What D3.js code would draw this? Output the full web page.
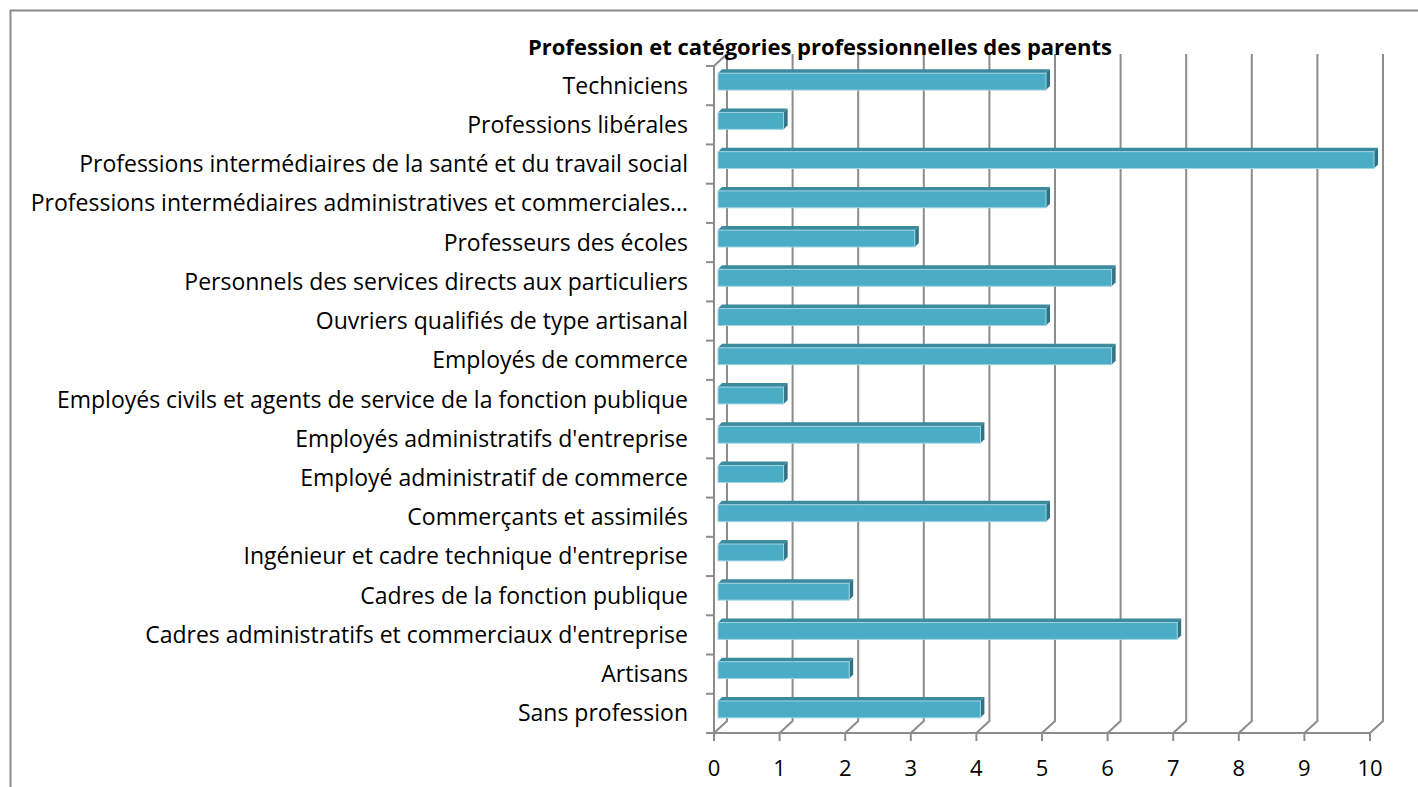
<!DOCTYPE html>
<html>
<head>
<meta charset="utf-8">
<script src="https://cdn.jsdelivr.net/npm/d3@7"></script>
<style>
  body { margin: 0; background: #fff; }
  text { font-family: "Open Sans", "Noto Sans", sans-serif; fill: #000; }
</style>
</head>
<body>
<div id="chart"></div>
<script>
// Width and height of the picture
var width = 1418;
var height = 787;

// categories, top to bottom as drawn
var categories = [
  "Techniciens",
  "Professions libérales",
  "Professions intermédiaires de la santé et du travail social",
  "Professions intermédiaires administratives et commerciales…",
  "Professeurs des écoles",
  "Personnels des services directs aux particuliers",
  "Ouvriers qualifiés de type artisanal",
  "Employés de commerce",
  "Employés civils et agents de service de la fonction publique",
  "Employés administratifs d'entreprise",
  "Employé administratif de commerce",
  "Commerçants et assimilés",
  "Ingénieur et cadre technique d'entreprise",
  "Cadres de la fonction publique",
  "Cadres administratifs et commerciaux d'entreprise",
  "Artisans",
  "Sans profession"
];
var values = [5, 1, 10, 5, 3, 6, 5, 6, 1, 4, 1, 5, 1, 2, 7, 2, 4];
var xTicks = [0, 1, 2, 3, 4, 5, 6, 7, 8, 9, 10];
var title = "Profession et catégories professionnelles des parents";

// 3D depth of the back wall and of the bars
var depth = { dx: 13, dy: -12 };
var barOff = { dx: 4, dy: -4 };

var x = d3.scaleLinear().domain([0, 10]).range([714, 1370]);
var y = d3.scaleBand().domain(categories).range([66, 733]).paddingInner(0).paddingOuter(0);
var barH = y.bandwidth() * 0.43;

var svg = d3.select("#chart").append("svg")
  .attr("width", width)
  .attr("height", height);

// outer frame (runs off the picture at right and bottom)
svg.append("rect")
  .attr("x", 10.5).attr("y", 10.5)
  .attr("width", width + 20).attr("height", height + 20)
  .style("fill", "none")
  .style("stroke", "#8a8a8a")
  .style("stroke-width", 2);

var gridColor = "#8c8c8c";
var grid = svg.append("g")
  .style("stroke", gridColor)
  .style("stroke-width", 2)
  .style("fill", "none");

var y0 = y.range()[1];
var yTop = y.range()[0];

// back wall gridlines with floor diagonals
grid.selectAll("path.gl")
  .data(xTicks)
  .enter()
  .append("path")
  .attr("class", "gl")
  .attr("d", function(d) {
    var px = x(d);
    return "M" + px + "," + y0 +
      "L" + (px + depth.dx) + "," + (y0 + depth.dy) +
      "L" + (px + depth.dx) + "," + (yTop + depth.dy);
  });

// left wall edge
grid.append("path")
  .attr("d", "M" + x(0) + "," + y0 + "L" + x(0) + "," + yTop +
    "L" + (x(0) + depth.dx) + "," + (yTop + depth.dy));

// floor front edge
grid.append("path")
  .attr("d", "M" + x(0) + "," + y0 + "L" + x(10) + "," + y0);

// x ticks
grid.selectAll("line.xt")
  .data(xTicks)
  .enter()
  .append("line")
  .attr("class", "xt")
  .attr("x1", function(d) { return x(d); })
  .attr("x2", function(d) { return x(d); })
  .attr("y1", y0)
  .attr("y2", y0 + 8);

// category ticks on the left axis
var catEdges = categories.map(function(c) { return y(c); }).concat([y0]);
grid.selectAll("line.yt")
  .data(catEdges)
  .enter()
  .append("line")
  .attr("class", "yt")
  .attr("x1", x(0) - 8)
  .attr("x2", x(0))
  .attr("y1", function(d) { return d; })
  .attr("y2", function(d) { return d; });

// bars (front, top and side faces)
var bars = svg.append("g").selectAll("g")
  .data(categories)
  .enter()
  .append("g");

function barTop(c) { return y(c) + (y.bandwidth() - barH) / 2 + barOff.dy; }

bars.append("path")
  .style("fill", "#3b8a9d")
  .attr("d", function(c, i) {
    var x0 = x(0) + barOff.dx, x1 = x(values[i]) + barOff.dx, t = barTop(c);
    return "M" + x0 + "," + t + "L" + (x0 + barOff.dx) + "," + (t + barOff.dy) +
      "L" + (x1 + barOff.dx) + "," + (t + barOff.dy) + "L" + x1 + "," + t + "Z";
  });

bars.append("path")
  .style("fill", "#2f7384")
  .attr("d", function(c, i) {
    var x1 = x(values[i]) + barOff.dx, t = barTop(c);
    return "M" + x1 + "," + t + "L" + (x1 + barOff.dx) + "," + (t + barOff.dy) +
      "L" + (x1 + barOff.dx) + "," + (t + barOff.dy + barH) + "L" + x1 + "," + (t + barH) + "Z";
  });

bars.append("rect")
  .attr("x", x(0) + barOff.dx)
  .attr("y", function(c) { return barTop(c); })
  .attr("width", function(c, i) { return x(values[i]) - x(0); })
  .attr("height", barH)
  .style("fill", "#4bacc6")
  .style("stroke", "#9fd4e2")
  .style("stroke-width", 1);

// category labels
svg.append("g").selectAll("text")
  .data(categories)
  .enter()
  .append("text")
  .attr("x", 688)
  .attr("y", function(c) { return y(c) + y.bandwidth() / 2; })
  .attr("dy", ".35em")
  .attr("text-anchor", "end")
  .style("font-size", "23px")
  .text(function(d) { return d; });

// x tick labels
svg.append("g").selectAll("text")
  .data(xTicks)
  .enter()
  .append("text")
  .attr("x", function(d) { return x(d); })
  .attr("y", 768)
  .attr("dy", ".35em")
  .attr("text-anchor", "middle")
  .style("font-size", "22px")
  .text(function(d) { return d; });

// title
svg.append("text")
  .attr("x", 820)
  .attr("y", 55)
  .attr("text-anchor", "middle")
  .style("font-size", "22px")
  .style("font-weight", "bold")
  .text(title);
</script>
</body>
</html>
